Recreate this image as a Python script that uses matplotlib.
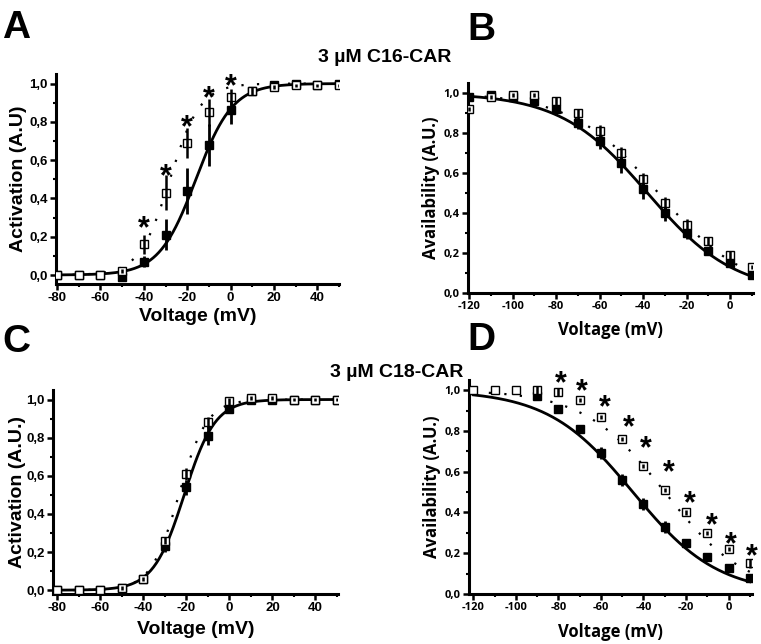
import numpy as np
import matplotlib
matplotlib.use("Agg")
import matplotlib.pyplot as plt
from matplotlib.ticker import MultipleLocator, FuncFormatter
from matplotlib.transforms import offset_copy

W, H = 761, 644

## activation voltages (mV)
v_act = [-80, -70, -60, -50, -40, -30, -20, -10, 0, 10, 20, 30, 40, 50]
## inactivation prepulse voltages (mV)
v_inact = [-120, -110, -100, -90, -80, -70, -60, -50, -40, -30, -20, -10, 0, 10]

## A: C16-CAR activation
a_ctrl = [0.0, 0.0, 0.0, -0.01, 0.07, 0.21, 0.44, 0.68, 0.86, 0.96, 0.99, 1.0, 0.99, 1.0]
a_ctrl_err = [0.0, 0.0, 0.0, 0.01, 0.03, 0.08, 0.12, 0.11, 0.07, 0.02, 0.01, 0.01, 0.01, 0.01]
a_drug = [0.0, 0.0, 0.0, 0.02, 0.16, 0.43, 0.69, 0.85, 0.93, 0.96, 0.98, 0.99, 0.99, 0.99]
a_drug_err = [0.0, 0.0, 0.0, 0.01, 0.05, 0.09, 0.08, 0.07, 0.04, 0.02, 0.01, 0.01, 0.01, 0.01]
a_star_v = [-40, -30, -20, -10, 0]
a_star_y = [0.28, 0.55, 0.81, 0.96, 1.02]

## B: C16-CAR availability
b_ctrl = [0.98, 0.99, 0.98, 0.96, 0.92, 0.85, 0.76, 0.65, 0.52, 0.40, 0.30, 0.21, 0.15, 0.09]
b_ctrl_err = [0.02, 0.01, 0.01, 0.02, 0.03, 0.03, 0.04, 0.05, 0.05, 0.04, 0.03, 0.02, 0.02, 0.01]
b_drug = [0.92, 0.98, 0.99, 0.99, 0.96, 0.90, 0.81, 0.70, 0.57, 0.45, 0.34, 0.26, 0.19, 0.13]
b_drug_err = [0.01, 0.01, 0.01, 0.01, 0.02, 0.02, 0.03, 0.03, 0.03, 0.03, 0.03, 0.02, 0.02, 0.01]

## C: C18-CAR activation
c_ctrl = [0.0, 0.0, 0.0, 0.01, 0.06, 0.23, 0.54, 0.81, 0.95, 1.0, 1.0, 1.0, 1.0, 1.0]
c_ctrl_err = [0.0, 0.0, 0.0, 0.01, 0.01, 0.03, 0.04, 0.05, 0.02, 0.01, 0.01, 0.01, 0.01, 0.01]
c_drug = [0.0, 0.0, 0.0, 0.01, 0.06, 0.26, 0.61, 0.88, 0.99, 1.01, 1.01, 1.0, 1.0, 1.0]
c_drug_err = [0.0, 0.0, 0.0, 0.01, 0.01, 0.02, 0.03, 0.03, 0.02, 0.01, 0.01, 0.01, 0.01, 0.01]

## D: C18-CAR availability (control has no points below -90 mV)
v_inact_d_ctrl = [-90, -80, -70, -60, -50, -40, -30, -20, -10, 0, 10]
d_ctrl = [0.97, 0.91, 0.81, 0.69, 0.56, 0.44, 0.33, 0.25, 0.18, 0.13, 0.08]
d_ctrl_err = [0.01, 0.01, 0.02, 0.03, 0.03, 0.03, 0.03, 0.02, 0.01, 0.01, 0.02]
d_drug = [1.0, 1.0, 1.0, 1.0, 0.99, 0.95, 0.87, 0.76, 0.63, 0.51, 0.40, 0.30, 0.22, 0.15]
d_drug_err = [0.0, 0.0, 0.0, 0.02, 0.02, 0.01, 0.01, 0.01, 0.01, 0.01, 0.01, 0.01, 0.01, 0.02]
d_star_v = [-79, -69, -58, -47, -39, -28, -18, -8, 1, 11]
d_star_y = [1.07, 1.03, 0.95, 0.85, 0.75, 0.63, 0.48, 0.37, 0.28, 0.22]

## Boltzmann fit parameters (V1/2, k)
fit_a = (-16.0, 8.5)
fit_a_drug = (-28.0, 7.0)
fit_b = (-38.0, 20.0)
fit_b_drug = (-33.0, 20.0)
fit_c = (-21.0, 7.2)
fit_c_drug = (-23.5, 6.5)
fit_d = (-45.0, 20.0)
fit_d_drug = (-30.0, 19.0)


def boltz_act(v, p):
    return 1.0 / (1.0 + np.exp((p[0] - v) / p[1]))


def boltz_inact(v, p):
    return 1.0 / (1.0 + np.exp((v - p[0]) / p[1]))


comma = FuncFormatter(lambda x, pos: ("%.1f" % x).replace(".", ","))
comma0 = FuncFormatter(lambda x, pos: "%d" % round(x))


def px_axes(fig, l, r, t, b):
    return fig.add_axes([l / W, 1 - b / H, (r - l) / W, (b - t) / H])


def style(ax, font, tsize):
    for s in ["top", "right"]:
        ax.spines[s].set_visible(False)
    for s in ["left", "bottom"]:
        ax.spines[s].set_linewidth(2.2)
    ax.yaxis.set_major_locator(MultipleLocator(0.2))
    ax.yaxis.set_minor_locator(MultipleLocator(0.1))
    ax.xaxis.set_major_locator(MultipleLocator(20))
    ax.xaxis.set_minor_locator(MultipleLocator(10))
    ax.yaxis.set_major_formatter(comma)
    ax.xaxis.set_major_formatter(comma0)
    ax.tick_params(which="major", direction="out", length=4, width=1.8, pad=2)
    ax.tick_params(which="minor", direction="out", length=2.5, width=1.5)
    for lab in ax.get_xticklabels() + ax.get_yticklabels():
        lab.set_fontfamily(font)
        lab.set_fontweight("bold")
        lab.set_fontsize(tsize)


def labels(ax, ytxt, font, size, ycoord, xcoord):
    ax.set_ylabel(ytxt, fontsize=size, fontweight="bold", family=font)
    ax.set_xlabel("Voltage (mV)", fontsize=size, fontweight="bold", family=font)
    ax.yaxis.label.set_va("center")
    ax.xaxis.label.set_va("center")
    ax.yaxis.set_label_coords(ycoord, 0.5)
    ax.xaxis.set_label_coords(0.5, xcoord)


def stars(ax, vs, ys):
    # anchor the asterisk glyph (which sits high in the line) at the point
    size = 22
    tr = offset_copy(ax.transData, fig=ax.figure, y=-0.52 * size, units="points")
    for sv, sy in zip(vs, ys):
        ax.text(sv, sy, "*", ha="center", va="baseline", fontsize=size,
                fontweight="bold", family="Liberation Sans", transform=tr,
                clip_on=False)


def draw(ax, v, ctrl, ctrl_err, vd, drug, drug_err, curve, p, pd, xs):
    x = np.linspace(xs[0], xs[1], 300)
    ax.plot(x, curve(x, pd), ls=(0, (1, 6)), lw=1.6, c="black", zorder=2)
    ax.plot(x, curve(x, p), c="black", lw=2.0, zorder=3)
    ax.errorbar(v, ctrl, yerr=ctrl_err, fmt="s", ms=6, mfc="black", mec="black",
                ecolor="black", elinewidth=2, capsize=0, zorder=4)
    ax.plot(vd, drug, "s", ms=6, mfc="white", mec="black", mew=1.0, zorder=5)
    ax.errorbar(vd, drug, yerr=drug_err, fmt="none", ecolor="black",
                elinewidth=1.8, capsize=0, zorder=6)


fig = plt.figure(figsize=(W / 100, H / 100), dpi=100)
arial = "Liberation Sans"
sans2 = "Open Sans"

# A
axA = px_axes(fig, 56, 339, 74, 284)
draw(axA, v_act, a_ctrl, a_ctrl_err, v_act, a_drug, a_drug_err,
     boltz_act, fit_a, fit_a_drug, (-80, 50))
stars(axA, a_star_v, a_star_y)
axA.set_xlim(-80.5, 50)
axA.set_ylim(-0.047, 1.05)
style(axA, arial, 9.5)
labels(axA, "Activation (A.U)", arial, 14, -0.134, -0.157)

# B
axB = px_axes(fig, 468, 753, 83, 293)
draw(axB, v_inact, b_ctrl, b_ctrl_err, v_inact, b_drug, b_drug_err,
     boltz_inact, fit_b, fit_b_drug, (-120, 10))
axB.set_xlim(-120.5, 10.5)
axB.set_ylim(0, 1.05)
style(axB, sans2, 8)
labels(axB, "Availability (A.U.)", sans2, 12, -0.13, -0.176)

# C
axC = px_axes(fig, 53, 338, 390, 594)
draw(axC, v_act, c_ctrl, c_ctrl_err, v_act, c_drug, c_drug_err,
     boltz_act, fit_c, fit_c_drug, (-80, 50))
axC.set_xlim(-82, 50.5)
axC.set_ylim(-0.02, 1.05)
style(axC, arial, 9.5)
labels(axC, "Activation (A.U.)", arial, 14, -0.125, -0.176)

# D
axD = px_axes(fig, 469, 752, 380, 594)
draw(axD, v_inact_d_ctrl, d_ctrl, d_ctrl_err, v_inact, d_drug, d_drug_err,
     boltz_inact, fit_d, fit_d_drug, (-120, 10))
stars(axD, d_star_v, d_star_y)
axD.set_xlim(-122, 11)
axD.set_ylim(0, 1.05)
style(axD, sans2, 8)
labels(axD, "Availability (A.U.)", sans2, 12, -0.13, -0.178)

# titles and panel letters
fig.text(385 / W, 1 - 58 / H, "3 \u00b5M C16-CAR", ha="center", va="center",
         fontsize=14, fontweight="bold", family=arial)
fig.text(397 / W, 1 - 373 / H, "3 \u00b5M C18-CAR", ha="center", va="center",
         fontsize=14, fontweight="bold", family=arial)
for letter, x, y in [("A", 2, 38), ("B", 467, 40), ("C", 2, 352), ("D", 467, 350)]:
    fig.text(x / W, 1 - y / H, letter, ha="left", va="baseline",
             fontsize=28, fontweight="bold", family=arial)

fig.savefig("out.png", dpi=100)
